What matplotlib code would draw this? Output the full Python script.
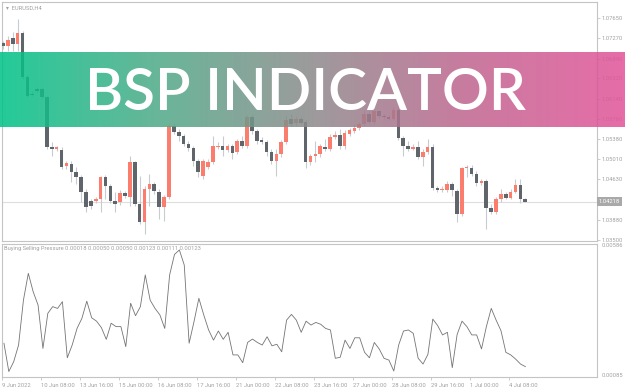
import numpy as np
import matplotlib
matplotlib.use("Agg")
import matplotlib.pyplot as plt
import matplotlib.transforms as mtransforms
from matplotlib.colors import LinearSegmentedColormap

# EURUSD H4 candles
opens = [1.07182, 1.07126, 1.07276, 1.07164, 1.07369, 1.06546, 1.06228, 1.06322, 1.06322, 1.06172,
         1.05237, 1.05200, 1.05181, 1.04882, 1.04920, 1.04770, 1.04676, 1.04396, 1.04228, 1.04228,
         1.04265, 1.04676, 1.04508, 1.04228, 1.04209, 1.04377, 1.04302, 1.04957, 1.04172, 1.03835,
         1.04452, 1.04546, 1.04396, 1.04115, 1.04302, 1.05630, 1.05518, 1.05443, 1.05294, 1.05219,
         1.04976, 1.04695, 1.04863, 1.04957, 1.05237, 1.05256, 1.05181, 1.05256, 1.05144, 1.05350,
         1.05256, 1.05798, 1.05537, 1.05368, 1.05331, 1.05144, 1.04976, 1.05107, 1.05331, 1.05761,
         1.05686, 1.05761, 1.05705, 1.04957, 1.05069, 1.05107, 1.05237, 1.05200, 1.05424, 1.05462,
         1.05256, 1.05481, 1.05537, 1.05593, 1.05668, 1.05855, 1.05705, 1.05911, 1.05817, 1.05798,
         1.05761, 1.05929, 1.05406, 1.05256, 1.05200, 1.05237, 1.05050, 1.05144, 1.05237, 1.04471,
         1.04433, 1.04433, 1.04546, 1.04415, 1.03985, 1.04845, 1.04845, 1.04733, 1.04564, 1.04602,
         1.04097, 1.04022, 1.04265, 1.04359, 1.04284, 1.04396, 1.04527, 1.04265]
highs = [1.07220, 1.07313, 1.07388, 1.07631, 1.07407, 1.06584, 1.06285, 1.06359, 1.06359, 1.06191,
         1.05331, 1.05256, 1.05237, 1.04976, 1.04976, 1.04863, 1.04714, 1.04452, 1.04265, 1.04302,
         1.04695, 1.04714, 1.04546, 1.04396, 1.04433, 1.04415, 1.05069, 1.04976, 1.04695, 1.04508,
         1.04733, 1.04583, 1.04452, 1.04340, 1.05668, 1.05686, 1.05574, 1.05481, 1.05350, 1.05256,
         1.05013, 1.05013, 1.05013, 1.05443, 1.05331, 1.05443, 1.05294, 1.05294, 1.05387, 1.05443,
         1.05836, 1.05836, 1.05574, 1.05424, 1.05368, 1.05200, 1.05200, 1.05368, 1.05836, 1.05855,
         1.05817, 1.05817, 1.05761, 1.05107, 1.05350, 1.05294, 1.05387, 1.05481, 1.05537, 1.05574,
         1.05555, 1.05593, 1.05668, 1.05705, 1.05929, 1.05911, 1.05929, 1.05929, 1.05855, 1.05836,
         1.05985, 1.05985, 1.05443, 1.05350, 1.05294, 1.05350, 1.05200, 1.05387, 1.05294, 1.04508,
         1.04508, 1.04602, 1.04583, 1.04452, 1.04863, 1.04901, 1.04901, 1.04789, 1.04639, 1.04639,
         1.04172, 1.04302, 1.04452, 1.04396, 1.04452, 1.04639, 1.04639, 1.04284]
lows = [1.07070, 1.07033, 1.07033, 1.07033, 1.06509, 1.06172, 1.06191, 1.06266, 1.06135, 1.05200,
        1.05069, 1.05163, 1.04826, 1.04826, 1.04583, 1.04546, 1.04209, 1.04022, 1.04078, 1.04190,
        1.04022, 1.04265, 1.04190, 1.04022, 1.04153, 1.04284, 1.04134, 1.04134, 1.03798, 1.03611,
        1.04134, 1.04359, 1.03891, 1.03854, 1.04265, 1.05481, 1.05350, 1.05256, 1.05163, 1.04882,
        1.04676, 1.04639, 1.04826, 1.04920, 1.05200, 1.05069, 1.05144, 1.05013, 1.05107, 1.05219,
        1.05219, 1.05481, 1.05294, 1.05294, 1.05069, 1.04920, 1.04695, 1.05050, 1.05294, 1.05630,
        1.05630, 1.05668, 1.04845, 1.04901, 1.04957, 1.05050, 1.05163, 1.05163, 1.05387, 1.05200,
        1.05200, 1.05443, 1.05499, 1.05555, 1.05630, 1.05668, 1.05668, 1.05780, 1.05761, 1.05742,
        1.05742, 1.05368, 1.05069, 1.05163, 1.05181, 1.05013, 1.04882, 1.05107, 1.04433, 1.04396,
        1.04396, 1.04396, 1.04321, 1.03835, 1.03947, 1.04676, 1.04695, 1.04508, 1.04527, 1.03704,
        1.03985, 1.03985, 1.04209, 1.04265, 1.04265, 1.04377, 1.04190, 1.04209]
closes = [1.07126, 1.07238, 1.07164, 1.07369, 1.06546, 1.06191, 1.06210, 1.06285, 1.06172, 1.05237,
          1.05200, 1.05237, 1.04863, 1.04938, 1.04770, 1.04676, 1.04396, 1.04115, 1.04134, 1.04265,
          1.04676, 1.04508, 1.04228, 1.04172, 1.04377, 1.04321, 1.04957, 1.04172, 1.03835, 1.04452,
          1.04546, 1.04415, 1.04115, 1.04302, 1.05630, 1.05518, 1.05443, 1.05294, 1.05219, 1.04976,
          1.04770, 1.04976, 1.04957, 1.05256, 1.05256, 1.05181, 1.05256, 1.05125, 1.05350, 1.05256,
          1.05798, 1.05537, 1.05350, 1.05331, 1.05144, 1.04976, 1.05107, 1.05331, 1.05742, 1.05668,
          1.05761, 1.05686, 1.04957, 1.05069, 1.05107, 1.05256, 1.05200, 1.05424, 1.05462, 1.05256,
          1.05499, 1.05555, 1.05593, 1.05668, 1.05855, 1.05705, 1.05911, 1.05817, 1.05798, 1.05761,
          1.05929, 1.05406, 1.05256, 1.05200, 1.05237, 1.05050, 1.05144, 1.05237, 1.04471, 1.04433,
          1.04452, 1.04546, 1.04433, 1.03985, 1.04845, 1.04863, 1.04733, 1.04564, 1.04602, 1.04097,
          1.04022, 1.04265, 1.04359, 1.04284, 1.04396, 1.04527, 1.04265, 1.04218]

# Buying Selling Pressure indicator
bsp = [0.00207, 0.00098, 0.00136, 0.00200, 0.00373, 0.00476, 0.00405, 0.00354, 0.00187, 0.00322,
       0.00348, 0.00341, 0.00367, 0.00151, 0.00200, 0.00264, 0.00303, 0.00369, 0.00305, 0.00292,
       0.00267, 0.00222, 0.00284, 0.00271, 0.00271, 0.00194, 0.00361, 0.00313, 0.00348, 0.00470,
       0.00373, 0.00341, 0.00316, 0.00264, 0.00470, 0.00549, 0.00566, 0.00508, 0.00207, 0.00290,
       0.00380, 0.00316, 0.00258, 0.00219, 0.00254, 0.00222, 0.00249, 0.00162, 0.00162, 0.00132,
       0.00210, 0.00223, 0.00210, 0.00200, 0.00232, 0.00197, 0.00203, 0.00174, 0.00296, 0.00318,
       0.00296, 0.00249, 0.00292, 0.00277, 0.00287, 0.00280, 0.00264, 0.00258, 0.00149, 0.00153,
       0.00219, 0.00187, 0.00228, 0.00228, 0.00172, 0.00151, 0.00210, 0.00185, 0.00149, 0.00142,
       0.00100, 0.00200, 0.00254, 0.00258, 0.00245, 0.00149, 0.00127, 0.00164, 0.00300, 0.00275,
       0.00239, 0.00249, 0.00113, 0.00241, 0.00292, 0.00271, 0.00239, 0.00239, 0.00185, 0.00271,
       0.00341, 0.00296, 0.00255, 0.00172, 0.00162, 0.00146, 0.00127, 0.00117]

time_labels = ["9 Jun 2022", "10 Jun 08:00", "13 Jun 16:00", "15 Jun 00:00", "16 Jun 08:00",
               "17 Jun 16:00", "21 Jun 00:00", "22 Jun 08:00", "23 Jun 16:00", "27 Jun 00:00",
               "28 Jun 08:00", "29 Jun 16:00", "1 Jul 00:00", "4 Jul 08:00"]
price_ticks = [1.07650, 1.07270, 1.06890, 1.06520, 1.06140, 1.05760, 1.05380,
               1.05010, 1.04630, 1.03880, 1.03500]
bsp_ticks = [0.00586, 0.00085]
last_price = 1.04218

W, H = 625, 391
fig = plt.figure(figsize=(W / 100, H / 100), dpi=100)
fig.patch.set_facecolor("white")
plt.rcParams["font.family"] = ["Roboto", "DejaVu Sans"]


def box(x0, y0, x1, y1):
    return [x0 / W, 1 - y1 / H, (x1 - x0) / W, (y1 - y0) / H]


grey_txt = "#a0a0a0"
spine_col = "#c4c4c4"
fs = 4.15
ax = fig.add_axes(box(2, 2, 597, 241))
ax2 = fig.add_axes(box(2, 244, 597, 377))

o = np.array(opens)
h = np.array(highs)
l = np.array(lows)
c = np.array(closes)
idx = np.arange(len(o))
up = c >= o
ax.vlines(idx, l, h, color="#c8cbd0", lw=0.8, zorder=2)
body = np.maximum(np.abs(c - o), 0.00006)
ax.bar(idx, body, bottom=np.minimum(o, c), width=0.74,
       color=np.where(up, "#fb7d6d", "#60656c"), zorder=3)
ax.axhline(last_price, color="#dedede", lw=0.8, zorder=1)

ax.set_xlim(-0.2, 121.7)
ax.set_ylim(1.03480, 1.07949)
ax.set_xticks([])
ax.yaxis.tick_right()
ax.set_yticks(price_ticks)
ax.set_yticklabels(["%.5f" % p for p in price_ticks])
ax.tick_params(axis="y", labelsize=fs, colors=spine_col, labelcolor=grey_txt,
               length=2, width=0.6, pad=1.2)
for s in ax.spines.values():
    s.set_color(spine_col)
    s.set_linewidth(0.8)
trans = mtransforms.blended_transform_factory(ax.transAxes, ax.transData)
ax.text(1.003, last_price, "%.5f" % last_price, transform=trans, ha="left", va="center",
        fontsize=fs, color="white",
        bbox=dict(boxstyle="square,pad=0.3", fc="#a9a9a9", ec="none"))
ax.text(0.006, 0.985, "\u25be  EURUSD,H4", transform=ax.transAxes, ha="left", va="top",
        fontsize=fs, color=grey_txt)

ax2.plot(idx, bsp, color="#747474", lw=0.6)
ax2.set_xlim(-0.2, 121.7)
ax2.set_ylim(0.00077, 0.00589)
ax2.yaxis.tick_right()
ax2.set_yticks(bsp_ticks)
ax2.set_yticklabels(["%.5f" % v for v in bsp_ticks])
ax2.tick_params(axis="y", labelsize=fs, colors=spine_col, labelcolor=grey_txt,
                length=0, pad=3)
tick_pos = [8 * k - 0.4 for k in range(len(time_labels))]
ax2.set_xticks(tick_pos)
ax2.set_xticklabels(time_labels)
for t in ax2.get_xticklabels():
    t.set_horizontalalignment("left")
ax2.tick_params(axis="x", labelsize=fs, colors=spine_col, labelcolor=grey_txt,
                length=2.5, width=0.6, pad=2)
for s in ax2.spines.values():
    s.set_color(spine_col)
    s.set_linewidth(0.8)
ax2.text(0.004, 0.985, "Buying Selling Pressure 0.00018 0.00050 0.00050 0.00123 0.00111 0.00123",
         transform=ax2.transAxes, ha="left", va="top", fontsize=fs, color=grey_txt)

# title banner across the chart
bax = fig.add_axes(box(0, 52, 625, 127))
bax.axis("off")
cmap = LinearSegmentedColormap.from_list("bsp", ["#00c287", "#4faa88", "#8d8a8c", "#c0658f", "#e2559a"])
grad = cmap(np.linspace(0, 1, 400))[None, :, :]
bax.imshow(grad, aspect="auto", extent=[0, 1, 0, 1], alpha=0.86)
bax.set_xlim(0, 1)
bax.set_ylim(0, 1)
bax.text(0.488, 0.23, "BSP INDICATOR", ha="center", va="baseline", color="white",
         fontsize=42, family="Lato", fontweight="semibold")

fig.savefig("out.png", dpi=100)
